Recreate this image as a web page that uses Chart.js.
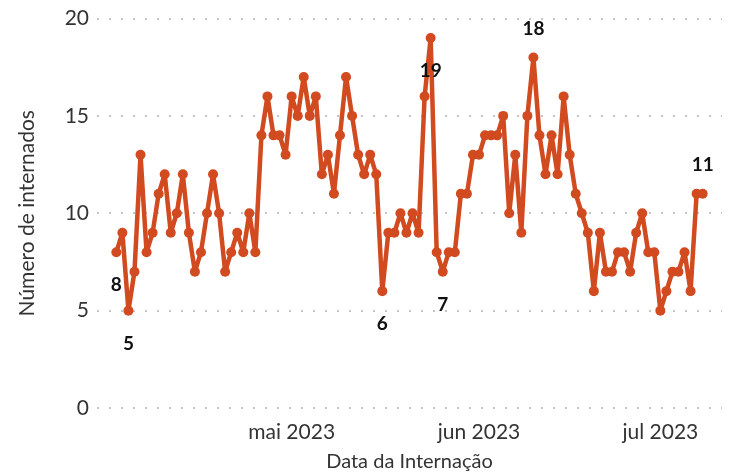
<!DOCTYPE html>
<html lang="pt">
<head>
<meta charset="utf-8">
<title>Número de internados por dia</title>
<script src="https://cdn.jsdelivr.net/npm/chart.js@4.4.1/dist/chart.umd.min.js"></script>
<style>
    html, body { margin: 0; padding: 0; background: #ffffff; }
    #wrap { width: 735px; height: 472px; position: relative; }
</style>
</head>
<body>
<div id="wrap"><canvas id="chart" width="735" height="472"></canvas></div>
<script>
    'use strict';

    // Dia 0 = 02/04/2023, um ponto por dia
    const dayIndex = Array.from({ length: 98 }, (_, i) => i);
    const internados = [
        8, 9, 5, 7, 13, 8, 9, 11, 12, 9, 10, 12, 9, 7, 8, 10, 12, 10, 7, 8, 9, 8, 10, 8,
        14, 16, 14, 14, 13, 16, 15, 17, 15, 16, 12, 13, 11, 14, 17, 15, 13, 12, 13, 12,
        6, 9, 9, 10, 9, 10, 9, 16, 19, 8, 7, 8, 8, 11, 11, 13, 13, 14, 14, 14, 15, 10,
        13, 9, 15, 18, 14, 12, 14, 12, 16, 13, 11, 10, 9, 6, 9, 7, 7, 8, 8, 7, 9, 10,
        8, 8, 5, 6, 7, 7, 8, 6, 11, 11
    ];

    // Marcas do eixo x (índice do dia) e seus rótulos
    const xTickDays = [29, 60, 90];
    const xTickLabels = ['mai 2023', 'jun 2023', 'jul 2023'];
    const yTicks = [0, 5, 10, 15, 20];

    // Pontos anotados: índice e se o rótulo vai abaixo ou acima
    const labelDays = [0, 2, 44, 52, 54, 69, 97];
    const labelSide = ['below', 'below', 'below', 'below', 'below', 'above', 'above'];

    const LINE_COLOR = '#D24A1F';
    const FONT = 'Lato, "Noto Sans", sans-serif';

    /**
     * Desenha os valores em negrito junto aos pontos destacados
     */
    const pointLabels = {
        id: 'pointLabels',
        afterDatasetsDraw(chart) {
            const ctx = chart.ctx;
            const xs = chart.scales.x;
            const ys = chart.scales.y;
            ctx.save();
            ctx.font = 'bold 19px ' + FONT;
            ctx.fillStyle = '#111111';
            ctx.textAlign = 'center';
            ctx.textBaseline = 'middle';
            labelDays.forEach((d, i) => {
                const v = internados[d];
                const px = xs.getPixelForValue(dayIndex[d]);
                const py = ys.getPixelForValue(v);
                const dy = labelSide[i] === 'above' ? -29 : 33;
                ctx.fillText(String(v), px, py + dy);
            });
            ctx.restore();
        }
    };

    new Chart(document.getElementById('chart').getContext('2d'), {
        type: 'line',
        data: {
            datasets: [{
                label: 'Número de internados',
                data: dayIndex.map((d, i) => ({ x: d, y: internados[i] })),
                borderColor: LINE_COLOR,
                backgroundColor: LINE_COLOR,
                borderWidth: 4.5,
                borderJoinStyle: 'round',
                borderCapStyle: 'round',
                pointRadius: 5,
                pointHoverRadius: 5,
                pointBorderWidth: 0,
                tension: 0,
                clip: false
            }]
        },
        options: {
            responsive: false,
            animation: false,
            events: [],
            layout: { padding: { top: 17, right: 13, bottom: 0, left: 0 } },
            plugins: {
                legend: { display: false },
                tooltip: { enabled: false }
            },
            scales: {
                x: {
                    type: 'linear',
                    min: -3.2,
                    max: 100.2,
                    afterBuildTicks: (scale) => {
                        scale.ticks = xTickDays.map(v => ({ value: v }));
                    },
                    afterFit: (scale) => { scale.height = 64; },
                    ticks: {
                        autoSkip: false,
                        maxRotation: 0,
                        padding: 12,
                        color: '#333333',
                        font: { family: FONT, size: 21 },
                        callback: (value) => {
                            const k = xTickDays.indexOf(value);
                            return k >= 0 ? xTickLabels[k] : '';
                        }
                    },
                    grid: { display: false, drawTicks: false },
                    border: { display: false },
                    title: {
                        display: true,
                        text: 'Data da Internação',
                        color: '#333333',
                        font: { family: FONT, size: 20, lineHeight: 1 },
                        padding: { top: 0, bottom: 0 }
                    }
                },
                y: {
                    min: 0,
                    max: 20,
                    afterBuildTicks: (scale) => {
                        scale.ticks = yTicks.map(v => ({ value: v }));
                    },
                    afterFit: (scale) => { scale.width = 97; },
                    ticks: {
                        padding: 8,
                        color: '#333333',
                        font: { family: FONT, size: 21, lineHeight: 1 }
                    },
                    grid: {
                        drawTicks: false,
                        color: '#c4c4c4',
                        lineWidth: 2
                    },
                    border: { display: false, dash: [2, 10] },
                    title: {
                        display: true,
                        text: 'Número de internados',
                        color: '#333333',
                        font: { family: FONT, size: 21, lineHeight: 1 },
                        padding: { top: 17, bottom: 0 }
                    }
                }
            }
        },
        plugins: [pointLabels]
    });
</script>
</body>
</html>
